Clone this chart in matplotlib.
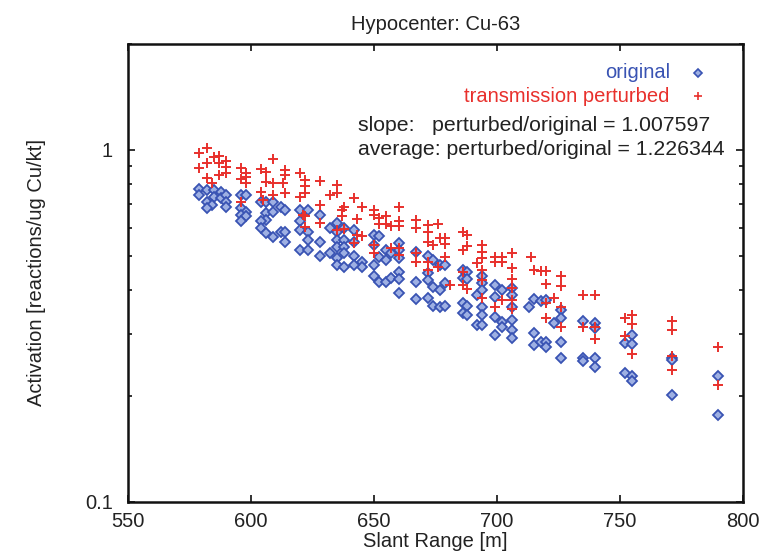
import numpy as np
import matplotlib
matplotlib.use('Agg')
import matplotlib.pyplot as plt
from matplotlib.ticker import LogLocator, NullFormatter, FixedLocator


title = 'Hypocenter: Cu-63'
xlabel = 'Slant Range [m]'
ylabel = 'Activation [reactions/ug Cu/kt]'
slope_text = 'slope:   perturbed/original = 1.007597'
avg_text = 'average: perturbed/original = 1.226344'

# original (blue diamonds)
orig_x = [579, 579, 582, 582, 585, 585, 584, 582, 588, 588, 590, 590, 590,
          596, 598, 596, 598, 596, 598, 596, 604, 606, 609, 606, 609, 606,
          604, 604, 606, 609, 612, 614, 612, 614, 614, 620, 623, 620, 620,
          623, 620, 623, 623, 628, 628, 628, 632, 635, 635, 635, 638, 635,
          632, 635, 638, 638, 635, 638, 642, 642, 645, 645, 642, 638, 642,
          650, 652, 650, 652, 655, 655, 657, 660, 660, 660, 650, 650, 652,
          655, 657, 660, 660, 660, 667, 672, 674, 677, 679, 667, 672, 672,
          672, 674, 677, 679, 667, 674, 677, 679, 686, 688, 686, 688, 686,
          688, 686, 688, 692, 694, 694, 694, 694, 694, 692, 694, 699, 702,
          699, 699, 702, 702, 699, 706, 706, 706, 706, 706, 706, 713, 715,
          718, 720, 715, 715, 718, 720, 720, 723, 726, 726, 726, 726, 735,
          735, 735, 740, 740, 740, 740, 752, 755, 755, 752, 755, 755, 771,
          771, 771, 790, 790]
orig_y = [0.773, 0.745, 0.770, 0.713, 0.770, 0.737, 0.698, 0.683, 0.761, 0.729,
          0.745, 0.713, 0.690, 0.745, 0.745, 0.683, 0.668, 0.654, 0.649, 0.626,
          0.713, 0.713, 0.713, 0.661, 0.668, 0.633, 0.626, 0.599, 0.580, 0.565,
          0.690, 0.675, 0.586, 0.586, 0.549, 0.675, 0.675, 0.626, 0.593, 0.583,
          0.520, 0.520, 0.555, 0.654, 0.549, 0.498, 0.599, 0.619, 0.586, 0.555,
          0.555, 0.531, 0.509, 0.492, 0.531, 0.509, 0.471, 0.466, 0.593, 0.498,
          0.481, 0.466, 0.471, 0.599, 0.549, 0.574, 0.570, 0.537, 0.496, 0.520,
          0.487, 0.509, 0.543, 0.520, 0.492, 0.471, 0.439, 0.422, 0.422, 0.432,
          0.451, 0.429, 0.392, 0.514, 0.500, 0.487, 0.471, 0.471, 0.422, 0.446,
          0.427, 0.379, 0.409, 0.400, 0.418, 0.377, 0.360, 0.359, 0.360, 0.456,
          0.451, 0.432, 0.429, 0.367, 0.360, 0.344, 0.340, 0.387, 0.437, 0.418,
          0.400, 0.359, 0.340, 0.318, 0.318, 0.413, 0.400, 0.383, 0.336, 0.325,
          0.315, 0.298, 0.405, 0.387, 0.359, 0.329, 0.308, 0.292, 0.357, 0.377,
          0.371, 0.375, 0.302, 0.279, 0.285, 0.285, 0.276, 0.322, 0.350, 0.333,
          0.285, 0.256, 0.327, 0.256, 0.252, 0.323, 0.311, 0.256, 0.241, 0.282,
          0.298, 0.281, 0.232, 0.228, 0.220, 0.256, 0.253, 0.201, 0.228, 0.177]

# transmission perturbed (red pluses)
pert_x = [579, 582, 579, 582, 585, 587, 587, 590, 590, 590, 587, 582, 584,
          596, 598, 596, 598, 598, 596, 604, 606, 609, 606, 604, 609, 605,
          614, 614, 613, 609, 620, 622, 622, 622, 620, 614, 628, 628, 628,
          635, 635, 632, 637, 637, 635, 642, 643, 645, 622, 621, 622, 643,
          638, 650, 650, 652, 655, 652, 655, 657, 660, 660, 660, 638, 645,
          642, 650, 650, 657, 660, 660, 667, 667, 672, 676, 672, 672, 674,
          677, 679, 679, 667, 667, 672, 672, 676, 679, 681, 686, 688, 686,
          688, 686, 686, 688, 694, 694, 694, 692, 694, 694, 694, 699, 702,
          699, 702, 699, 702, 706, 706, 706, 706, 706, 706, 714, 715, 718,
          720, 720, 723, 720, 726, 726, 726, 726, 735, 735, 720, 740, 740,
          740, 752, 755, 755, 752, 755, 771, 771, 771, 771, 790, 790]
pert_y = [0.982, 1.011, 0.887, 0.920, 0.957, 0.962, 0.920, 0.927, 0.893, 0.862,
          0.849, 0.831, 0.807, 0.887, 0.862, 0.826, 0.836, 0.807, 0.713, 0.882,
          0.868, 0.941, 0.813, 0.761, 0.804, 0.721, 0.877, 0.849, 0.804, 0.745,
          0.859, 0.822, 0.787, 0.753, 0.737, 0.756, 0.818, 0.698, 0.619, 0.796,
          0.753, 0.745, 0.675, 0.647, 0.593, 0.729, 0.636, 0.690, 0.647, 0.654,
          0.604, 0.574, 0.690, 0.675, 0.654, 0.640, 0.647, 0.616, 0.616, 0.608,
          0.690, 0.626, 0.608, 0.595, 0.570, 0.545, 0.537, 0.511, 0.526, 0.526,
          0.503, 0.633, 0.599, 0.612, 0.616, 0.586, 0.549, 0.537, 0.561, 0.561,
          0.541, 0.511, 0.481, 0.481, 0.456, 0.466, 0.496, 0.413, 0.586, 0.574,
          0.520, 0.533, 0.451, 0.413, 0.402, 0.537, 0.514, 0.492, 0.477, 0.456,
          0.427, 0.379, 0.496, 0.496, 0.481, 0.481, 0.359, 0.375, 0.509, 0.461,
          0.430, 0.405, 0.375, 0.353, 0.496, 0.456, 0.454, 0.454, 0.416, 0.379,
          0.367, 0.437, 0.411, 0.359, 0.313, 0.387, 0.313, 0.333, 0.387, 0.313,
          0.290, 0.333, 0.340, 0.320, 0.296, 0.263, 0.327, 0.308, 0.260, 0.237,
          0.276, 0.215]

xticks = [550, 600, 650, 700, 750, 800]

blue = '#3953b3'
blue_fill = '#9eb0e3'
red = '#e8302c'


def plotactivation():
	plt.rcParams['font.family'] = ['Liberation Sans', 'DejaVu Sans']
	fs = 14.5

	fig = plt.figure(figsize=(7.62, 5.55), dpi=100, facecolor='w')
	ax = fig.add_axes([0.168, 0.0955, 0.807, 0.8255])

	ax.plot(orig_x, orig_y, linestyle='none', marker='D', markersize=5.5,
		markerfacecolor=blue_fill, markeredgecolor=blue, markeredgewidth=1.3)
	ax.plot(pert_x, pert_y, linestyle='none', marker='+', markersize=7,
		color=red, markeredgewidth=1.4)

	ax.set_yscale('log')
	ax.set_xlim(550, 800)
	ax.set_ylim(0.1, 2.0)
	ax.xaxis.set_major_locator(FixedLocator(xticks))
	ax.yaxis.set_major_locator(FixedLocator([0.1, 1]))
	ax.yaxis.set_major_formatter(matplotlib.ticker.FixedFormatter(['0.1', '1']))
	ax.yaxis.set_minor_locator(LogLocator(base=10, subs=np.arange(2, 10), numticks=10))
	ax.yaxis.set_minor_formatter(NullFormatter())

	ax.tick_params(which='both', direction='in', top=True, right=True, width=1.3,
		labelsize=fs, colors='#222222')
	ax.tick_params(which='major', length=5)
	ax.tick_params(which='minor', length=3)
	ax.tick_params(axis='x', pad=7)
	ax.tick_params(axis='y', pad=11)
	for s in ax.spines.values():
		s.set_linewidth(1.8)
		s.set_color('#111111')

	ax.set_title(title, fontsize=fs, pad=10, color='#222222')
	ax.set_xlabel(xlabel, fontsize=fs, labelpad=1, color='#222222')
	ax.set_ylabel(ylabel, fontsize=fs, labelpad=28, color='#222222')

	# key, gnuplot style
	ax.text(0.881, 0.937, 'original', transform=ax.transAxes, ha='right', va='center',
		fontsize=fs, color=blue)
	ax.plot([0.927], [0.937], transform=ax.transAxes, linestyle='none', marker='D',
		markersize=4, markerfacecolor=blue_fill, markeredgecolor=blue, markeredgewidth=1.2)
	ax.text(0.881, 0.886, 'transmission perturbed', transform=ax.transAxes, ha='right',
		va='center', fontsize=fs, color=red)
	ax.plot([0.927], [0.886], transform=ax.transAxes, linestyle='none', marker='+',
		markersize=6, color=red, markeredgewidth=1.2)
	ax.text(0.374, 0.821, slope_text, transform=ax.transAxes, ha='left', va='center',
		fontsize=15.3, color='#222222')
	ax.text(0.374, 0.769, avg_text, transform=ax.transAxes, ha='left', va='center',
		fontsize=15.3, color='#222222')

	plt.savefig('out.png', dpi=100, facecolor='w')


plotactivation()
